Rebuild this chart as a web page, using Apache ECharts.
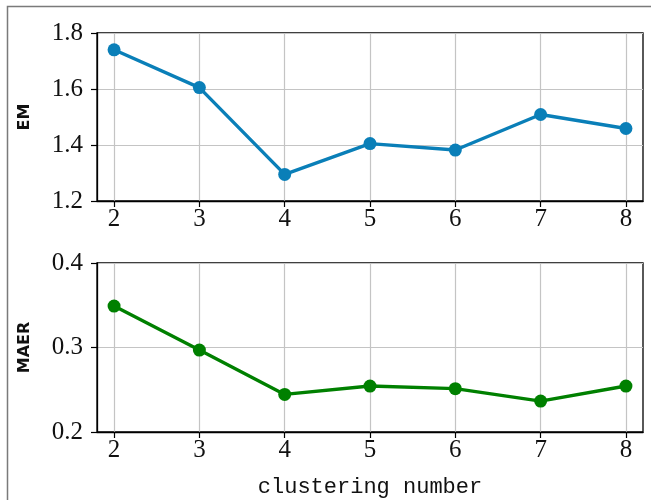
<!DOCTYPE html>
<html>
<head>
<meta charset="utf-8">
<script src="https://cdn.jsdelivr.net/npm/echarts@6/dist/echarts.min.js"></script>
<style>
  html, body { margin: 0; padding: 0; background: #fff; }
  #chart { width: 651px; height: 500px; }
</style>
</head>
<body>
<div id="chart"></div>
<script>
// Clustering number on the shared x axis
const clusterNumbers = [2, 3, 4, 5, 6, 7, 8];
// Upper panel: EM per clustering number
const emValues = [1.74, 1.605, 1.295, 1.405, 1.382, 1.509, 1.459];
// Lower panel: MAER per clustering number
const maerValues = [0.349, 0.297, 0.2445, 0.2544, 0.2513, 0.2366, 0.2544];

const serif = '"Liberation Serif", "DejaVu Serif", serif';
const sans = '"DejaVu Sans", "Liberation Sans", sans-serif';
const mono = '"Liberation Mono", "DejaVu Sans Mono", monospace';

function pairs(ys) {
  return clusterNumbers.map((x, i) => [x, ys[i]]);
}

function xAxisFor(gridIndex, withName) {
  return {
    type: 'value',
    gridIndex: gridIndex,
    min: 1.8,
    max: 8.2,
    axisLine: { show: true, onZero: false, lineStyle: { color: '#000', width: 1.3 } },
    axisTick: { show: true, length: 6, customValues: clusterNumbers, lineStyle: { color: '#000', width: 1.2 } },
    axisLabel: {
      customValues: clusterNumbers,
      color: '#111', fontFamily: serif, fontSize: 25, margin: 6,
      formatter: v => String(Math.round(v))
    },
    splitLine: { show: true, lineStyle: { color: '#c4c4c4', width: 1.2 } },
    name: withName ? 'clustering number' : '',
    nameLocation: 'middle',
    nameGap: 44,
    nameTextStyle: { color: '#111', fontFamily: mono, fontSize: 22 }
  };
}

function yAxisFor(gridIndex, min, max, interval, name) {
  return {
    type: 'value',
    gridIndex: gridIndex,
    min: min,
    max: max,
    interval: interval,
    axisLine: { show: true, lineStyle: { color: '#000', width: 1.3 } },
    axisTick: { show: true, length: 6, lineStyle: { color: '#000', width: 1.2 } },
    axisLabel: {
      color: '#111', fontFamily: serif, fontSize: 25, margin: 14,
      formatter: v => v.toFixed(1)
    },
    splitLine: { show: true, lineStyle: { color: '#c4c4c4', width: 1.2 } },
    name: name,
    nameLocation: 'middle',
    nameGap: 64,
    nameTextStyle: { color: '#111', fontFamily: sans, fontSize: 16, fontWeight: 'bold' }
  };
}

const chart = echarts.init(document.getElementById('chart'), null, { renderer: 'canvas' });
chart.setOption({
  animation: false,
  backgroundColor: '#fff',
  graphic: [{
    type: 'polyline',
    shape: { points: [[7.5, 500], [7.5, 6.5], [651, 6.5]] },
    style: { stroke: '#7a7a7a', lineWidth: 1.5, fill: null },
    silent: true
  }],
  grid: [
    { left: 97, top: 33, width: 546, height: 168, show: true, borderColor: '#000', borderWidth: 1.3, backgroundColor: 'transparent' },
    { left: 97, top: 263, width: 546, height: 169, show: true, borderColor: '#000', borderWidth: 1.3, backgroundColor: 'transparent' }
  ],
  xAxis: [xAxisFor(0, false), xAxisFor(1, true)],
  yAxis: [
    yAxisFor(0, 1.2, 1.8, 0.2, 'EM'),
    yAxisFor(1, 0.2, 0.4, 0.1, 'MAER')
  ],
  series: [
    {
      type: 'line', xAxisIndex: 0, yAxisIndex: 0,
      data: pairs(emValues),
      symbol: 'circle', symbolSize: 13,
      lineStyle: { color: '#0a7fb8', width: 3.4 },
      itemStyle: { color: '#0a7fb8' }
    },
    {
      type: 'line', xAxisIndex: 1, yAxisIndex: 1,
      data: pairs(maerValues),
      symbol: 'circle', symbolSize: 13,
      lineStyle: { color: '#008000', width: 3.4 },
      itemStyle: { color: '#008000' }
    }
  ]
});
</script>
</body>
</html>
